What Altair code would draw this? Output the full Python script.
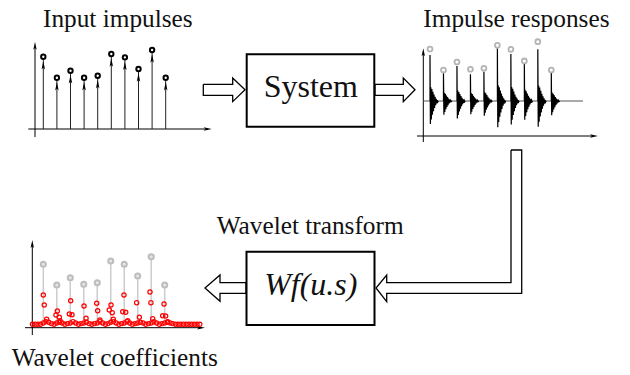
import altair as alt
import pandas as pd

# ---------------- data ----------------
impulse_t = [1, 2, 3, 4, 5, 6, 7, 8, 9, 10]
# panel 1: input impulse amplitudes
input_amp = [0.915, 0.649, 0.738, 0.649, 0.674, 0.949, 0.907, 0.759, 1.0, 0.649]
# panel 2: grey markers and spike peaks of the impulse responses
resp_marker = [0.877, 0.523, 0.658, 0.535, 0.551, 0.939, 0.872, 0.675, 1.0, 0.523]
resp_peak = [0.776, 0.467, 0.590, 0.450, 0.494, 0.889, 0.793, 0.636, 0.872, 0.477]
# shape of one response (time offset, relative value)
resp_shape_dt = [0.0, 0.0, 0.03, 0.06, 0.10, 0.14, 0.18, 0.22, 0.26, 0.30, 0.34,
                 0.38, 0.42, 0.46, 0.50, 0.54, 0.58, 0.62]
resp_shape_v = [0.0, 1.0, -0.5, 0.3, -0.4, 0.26, -0.3, 0.2, -0.22, 0.14, -0.15,
                0.09, -0.09, 0.05, -0.05, 0.02, -0.02, 0.0]
# panel 3: grey reference markers and the wavelet coefficients
coef_marker = [0.888, 0.581, 0.689, 0.592, 0.615, 0.936, 0.888, 0.714, 1.0, 0.581]
coef_t = [1.0, 1.07, 1.25,
          2.04, 1.94, 2.19, 2.24,
          3.03, 2.93, 3.13,
          4.02, 4.17,
          4.96, 5.03, 5.20,
          6.02, 5.89, 6.11, 6.19,
          6.98, 6.89, 7.11, 7.26,
          7.92, 8.12,
          8.91, 8.98, 9.11,
          9.95, 9.85, 10.07, 10.22]
coef_v = [0.433, 0.286, 0.074,
          0.197, 0.138, 0.104, 0.053,
          0.349, 0.152, 0.142,
          0.271, 0.089,
          0.311, 0.201, 0.064,
          0.286, 0.212, 0.172, 0.074,
          0.433, 0.186, 0.178, 0.053,
          0.320, 0.104,
          0.478, 0.320, 0.083,
          0.300, 0.127, 0.123, 0.038]
# near-zero coefficients, one every 0.2 time units starting at 0.2
band_v = [0, 0, 0, 0,
          0.02, 0.04, 0.03, 0.01, 0, 0.02, 0.03, 0.02, 0, 0.01,
          0.02, 0.04, 0.02, 0, 0.01, 0.02, 0.03, 0.01, 0, 0.01,
          0.02, 0.04, 0.02, 0, 0.01, 0.03, 0.04, 0.02, 0, 0.01,
          0.02, 0.04, 0.02, 0, 0.01, 0.02, 0.03, 0.02, 0, 0.01,
          0.02, 0.04, 0.02, 0, 0.01, 0.02, 0.03, 0.02, 0.01,
          0, 0, 0, 0, 0, 0, 0, 0, 0, 0]
band_t = [round(0.2 * (i + 1), 1) for i in range(len(band_v))]

# ---------------- layout of the diagram (image pixels) ----------------
W, H = 614, 359
FONT = "Liberation Serif"
lay_x = alt.Scale(domain=[8, 622], range=[0, W], nice=False, zero=False)
lay_y = alt.Scale(domain=[8, 367], range=[0, H], nice=False, zero=False)

boxes = pd.DataFrame({"x": [246.7, 246.5], "x2": [374.3, 374.5],
                      "y": [54.3, 251.7], "y2": [126.7, 325.0]})

arrow_polys = {
    "a1": [(203.3, 84.3), (232.7, 84.3), (232.7, 78.0), (245.0, 89.8), (232.7, 101.6),
           (232.7, 95.3), (203.3, 95.3), (203.3, 84.3)],
    "a2": [(375.0, 84.3), (403.3, 84.3), (403.3, 78.0), (415.0, 89.8), (403.3, 101.6),
           (403.3, 95.3), (375.0, 95.3), (375.0, 84.3)],
    "a3": [(511.0, 150.0), (521.7, 150.0), (521.7, 293.3), (386.7, 293.3), (386.7, 301.7),
           (376.0, 288.0), (386.7, 275.0), (386.7, 282.7), (511.0, 282.7), (511.0, 150.0)],
    "a4": [(246.0, 282.7), (220.0, 282.7), (220.0, 275.0), (205.0, 288.0), (220.0, 301.3),
           (220.0, 293.3), (246.0, 293.3), (246.0, 282.7)],
}
arrow_rows = []
for name, pts in arrow_polys.items():
    for i, (x, y) in enumerate(pts):
        arrow_rows.append({"arrow": name, "i": i, "x": x, "y": y})
arrows = pd.DataFrame(arrow_rows)

axis_lines = pd.DataFrame({
    "x": [35.0, 28.3, 423.3, 417.0, 32.3, 25.0],
    "x2": [35.0, 208.0, 423.3, 594.0, 32.3, 201.0],
    "y": [137.0, 129.0, 142.0, 136.0, 335.0, 327.7],
    "y2": [46.0, 129.0, 52.0, 136.0, 244.0, 327.7],
})
baseline = pd.DataFrame({"x": [423.3], "x2": [583.0], "y": [101.0], "y2": [101.0]})
up_heads = pd.DataFrame({"x": [35.0, 423.3, 32.3], "y": [45.7, 52.3, 244.0]})
right_heads = pd.DataFrame({"x": [207.7, 594.0, 201.0], "y": [129.0, 136.0, 327.7]})

titles = pd.DataFrame({
    "label": ["Input impulses", "Impulse responses", "Wavelet transform", "Wavelet coefficients"],
    "x": [43.0, 423.3, 216.7, 11.7],
    "y": [26.7, 26.7, 234.0, 366.3],
})
box_label = pd.DataFrame({"label": ["System"], "x": [310.8], "y": [96.7]})
box_label_it = pd.DataFrame({"label": ["Wf(u.s)"], "x": [310.8], "y": [295.0]})

ARROW = "M0,-1L0.42,1L0,0.55L-0.42,1Z"


def lx(f="x"):
    return alt.X(f"{f}:Q", scale=lay_x, axis=None)


def ly(f="y"):
    return alt.Y(f"{f}:Q", scale=lay_y, axis=None)


lay_rect = alt.Chart(boxes).mark_rect(fill="white", stroke="black", strokeWidth=2).encode(
    x=lx(), x2="x2:Q", y=ly(), y2="y2:Q")
lay_arrows = alt.Chart(arrows).mark_line(color="black", strokeWidth=1.3).encode(
    x=lx(), y=ly(), detail="arrow:N", order="i:Q")
lay_axes = alt.Chart(axis_lines).mark_rule(color="black", strokeWidth=1).encode(
    x=lx(), x2="x2:Q", y=ly(), y2="y2:Q")
lay_base = alt.Chart(baseline).mark_rule(color="#555555", strokeWidth=1).encode(
    x=lx(), x2="x2:Q", y=ly(), y2="y2:Q")
lay_up = alt.Chart(up_heads).mark_point(shape=ARROW, filled=True, color="black", size=64,
                                        opacity=1).encode(x=lx(), y=ly())
lay_right = alt.Chart(right_heads).mark_point(shape=ARROW, filled=True, color="black", size=64,
                                              angle=90, opacity=1).encode(x=lx(), y=ly())
lay_titles = alt.Chart(titles).mark_text(font=FONT, fontSize=25.3, align="left",
                                         baseline="alphabetic", color="#111111").encode(
    x=lx(), y=ly(), text="label:N")
lay_sys = alt.Chart(box_label).mark_text(font=FONT, fontSize=32, align="center",
                                         baseline="alphabetic", color="#111111").encode(
    x=lx(), y=ly(), text="label:N")
lay_wf = alt.Chart(box_label_it).mark_text(font=FONT, fontSize=32, fontStyle="italic",
                                           align="center", baseline="alphabetic",
                                           color="#111111").encode(
    x=lx(), y=ly(), text="label:N")

layout = alt.layer(lay_arrows, lay_rect, lay_axes, lay_base, lay_up, lay_right,
                   lay_titles, lay_sys, lay_wf)

# ---------------- panel 1: input impulses ----------------
p1_x = alt.Scale(domain=[1, 10], range=[35.3, 157.7], nice=False, zero=False)
p1_y = alt.Scale(domain=[0, 1], range=[121, 42], nice=False, zero=False)
p1_df = pd.DataFrame({"t": impulse_t, "a": input_amp, "base": [0] * len(impulse_t)})
p1_stems = alt.Chart(p1_df).mark_rule(color="#222222", strokeWidth=1).encode(
    x=alt.X("t:Q", scale=p1_x, axis=None), y=alt.Y("base:Q", scale=p1_y, axis=None),
    y2="a:Q")
p1_heads = alt.Chart(p1_df).mark_point(shape=ARROW, filled=True, color="black", size=70,
                                       yOffset=8.5, opacity=1).encode(
    x=alt.X("t:Q", scale=p1_x, axis=None), y=alt.Y("a:Q", scale=p1_y, axis=None))
p1_circ = alt.Chart(p1_df).mark_point(shape="circle", filled=True, fill="white",
                                      stroke="black", strokeWidth=2, size=19,
                                      opacity=1).encode(
    x=alt.X("t:Q", scale=p1_x, axis=None), y=alt.Y("a:Q", scale=p1_y, axis=None))
panel1 = alt.layer(p1_stems, p1_heads, p1_circ)

# ---------------- panel 2: impulse responses ----------------
p2_x = alt.Scale(domain=[1, 10], range=[422, 543.3], nice=False, zero=False)
p2_y = alt.Scale(domain=[0, 1], range=[93, 33.7], nice=False, zero=False)
resp_rows = []
for k, (t, pk) in enumerate(zip(impulse_t, resp_peak)):
    for j, (dt, v) in enumerate(zip(resp_shape_dt, resp_shape_v)):
        resp_rows.append({"spike": k, "j": j, "t": t + dt, "v": v * pk})
p2_resp = alt.Chart(pd.DataFrame(resp_rows)).mark_line(color="black", strokeWidth=1.2).encode(
    x=alt.X("t:Q", scale=p2_x, axis=None), y=alt.Y("v:Q", scale=p2_y, axis=None),
    detail="spike:N", order="j:Q")
p2_mark = alt.Chart(pd.DataFrame({"t": impulse_t, "m": resp_marker})).mark_point(
    shape="circle", filled=False, stroke="#b4b4b4", strokeWidth=1.8, size=24,
    opacity=1).encode(
    x=alt.X("t:Q", scale=p2_x, axis=None), y=alt.Y("m:Q", scale=p2_y, axis=None))
panel2 = alt.layer(p2_resp, p2_mark)

# ---------------- panel 3: wavelet coefficients ----------------
p3_x = alt.Scale(domain=[1, 10], range=[35.3, 156.7], nice=False, zero=False)
p3_y = alt.Scale(domain=[0, 1], range=[316.3, 248.7], nice=False, zero=False)
p3_df = pd.DataFrame({"t": impulse_t, "m": coef_marker, "base": [0] * len(impulse_t)})
p3_stems = alt.Chart(p3_df).mark_rule(color="#cccccc", strokeWidth=1.5).encode(
    x=alt.X("t:Q", scale=p3_x, axis=None), y=alt.Y("base:Q", scale=p3_y, axis=None),
    y2="m:Q")
p3_mark = alt.Chart(p3_df).mark_point(shape="circle", filled=True, fill="#e6e6e6",
                                      stroke="#bdbdbd", strokeWidth=2, size=26,
                                      opacity=1).encode(
    x=alt.X("t:Q", scale=p3_x, axis=None), y=alt.Y("m:Q", scale=p3_y, axis=None))
p3_band = alt.Chart(pd.DataFrame({"t": band_t, "v": band_v})).mark_point(
    shape="circle", filled=False, stroke="red", strokeWidth=1.2, size=18, opacity=1).encode(
    x=alt.X("t:Q", scale=p3_x, axis=None), y=alt.Y("v:Q", scale=p3_y, axis=None))
p3_coef = alt.Chart(pd.DataFrame({"t": coef_t, "v": coef_v})).mark_point(
    shape="circle", filled=False, stroke="red", strokeWidth=1.2, size=18, opacity=1).encode(
    x=alt.X("t:Q", scale=p3_x, axis=None), y=alt.Y("v:Q", scale=p3_y, axis=None))
panel3 = alt.layer(p3_stems, p3_mark, p3_band, p3_coef)

chart = alt.layer(layout, panel1, panel2, panel3).resolve_scale(
    x="independent", y="independent"
).properties(
    width=W, height=H, padding=0, autosize="none", background="white"
).configure_view(stroke=None)

chart.save("out.html", embed_options={"renderer": "svg", "actions": False})
